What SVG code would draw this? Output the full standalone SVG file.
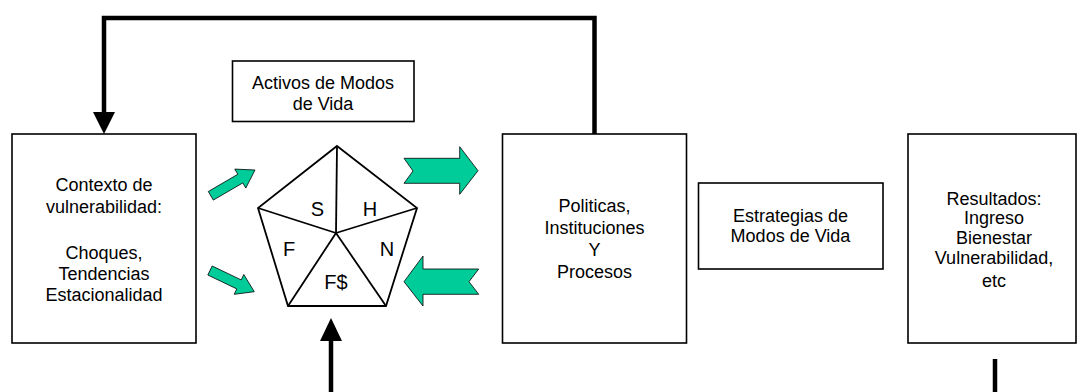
<svg xmlns="http://www.w3.org/2000/svg" width="1078" height="392" viewBox="0 0 1078 392">
<style>
.box{fill:#fff;stroke:#000;stroke-width:1.6}
.t{font-family:"Liberation Sans",Arial,sans-serif;font-size:18px;fill:#000;text-anchor:middle}
.pl{font-family:"Liberation Sans",Arial,sans-serif;font-size:20px;fill:#000;text-anchor:middle}
.pent{fill:#fff;stroke:#000;stroke-width:1.8;stroke-linejoin:miter}
.spoke{stroke:#000;stroke-width:1.8;fill:none}
.green{fill:#00CC99;stroke:#000;stroke-width:0.8;stroke-linejoin:miter}
.thick{fill:none;stroke:#000;stroke-width:4.5}
</style>
<rect width="1078" height="392" fill="#fff"/>
<g id="connectors">
<polyline class="thick" points="104,113 104,18 594.5,18 594.5,134"/>
<polygon points="104,134 93,112 115,112" fill="#000"/>
<line class="thick" x1="331" y1="340" x2="331" y2="392"/>
<polygon points="331,318 320,341 342,341" fill="#000"/>
<line class="thick" x1="995" y1="359" x2="995" y2="392"/>
<polygon class="green" points="213.3,200.1 208.3,191.5 237.8,174.3 234.8,169.1 255,170 245.8,188.1 242.8,182.9"/>
<polygon class="green" points="207.8,275 212.2,266 241.2,279.9 243.8,274.5 254.3,291.7 234.2,294.3 236.8,288.9"/>
<polygon class="green" points="404,158.3 459.7,158.3 459.7,146.7 478,170.7 459.7,194.3 459.7,183.3 404,183.3 413,171"/>
<polygon class="green" points="404,281.7 423,256 423,269 478.7,269 469,281.7 478.7,294.3 423,294.3 423,306"/>
</g>
<g id="contexto">
<rect class="box" x="12" y="134" width="184" height="209"/>
<text class="t" x="104" y="191">Contexto de</text>
<text class="t" x="104" y="213">vulnerabilidad:</text>
<text class="t" x="104" y="259">Choques,</text>
<text class="t" x="104" y="280">Tendencias</text>
<text class="t" x="104" y="301">Estacionalidad</text>
</g>
<g id="activos">
<rect class="box" x="232.5" y="61" width="181.5" height="60.5"/>
<text class="t" x="323" y="89">Activos de Modos</text>
<text class="t" x="323" y="110">de Vida</text>
</g>
<g id="pentagono">
<polygon class="pent" points="337,146 417,208 386,306 288,306 258,208"/>
<polyline class="spoke" points="337,146 336,233"/>
<polyline class="spoke" points="417,208 336,233"/>
<polyline class="spoke" points="386,306 336,233"/>
<polyline class="spoke" points="288,306 336,233"/>
<polyline class="spoke" points="258,208 336,233"/>
<text class="pl" x="317.5" y="216">S</text>
<text class="pl" x="370" y="216">H</text>
<text class="pl" x="289" y="256">F</text>
<text class="pl" x="387" y="256">N</text>
<text class="pl" x="336" y="289">F$</text>
</g>
<g id="politicas">
<rect class="box" x="502.5" y="134" width="184" height="209"/>
<text class="t" x="594.5" y="212">Politicas,</text>
<text class="t" x="594.5" y="234">Instituciones</text>
<text class="t" x="594.5" y="256">Y</text>
<text class="t" x="594.5" y="278">Procesos</text>
</g>
<g id="estrategias">
<rect class="box" x="698.5" y="183" width="184.5" height="86"/>
<text class="t" x="790.5" y="222">Estrategias de</text>
<text class="t" x="790.5" y="242">Modos de Vida</text>
</g>
<g id="resultados">
<rect class="box" x="908" y="134" width="168" height="209"/>
<text class="t" x="994" y="205">Resultados:</text>
<text class="t" x="994" y="224">Ingreso</text>
<text class="t" x="994" y="244">Bienestar</text>
<text class="t" x="994" y="264">Vulnerabilidad,</text>
<text class="t" x="994" y="287">etc</text>
</g>
</svg>
